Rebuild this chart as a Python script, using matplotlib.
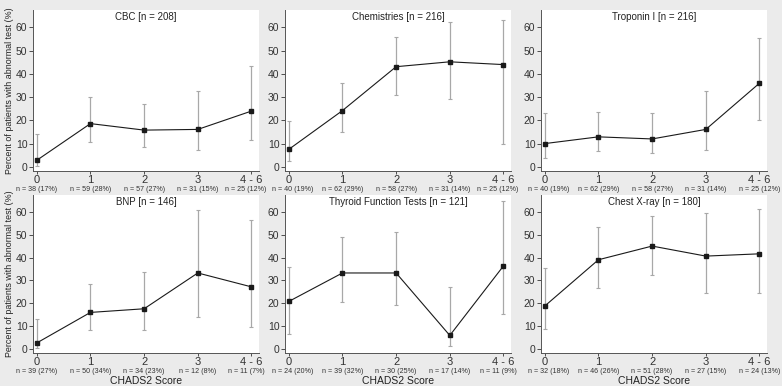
import matplotlib
matplotlib.use('Agg')
import matplotlib.pyplot as plt
from matplotlib.transforms import blended_transform_factory

plt.rcParams['font.family'] = ['Liberation Sans', 'DejaVu Sans']

# Catégories CHADS2
scores = ['0', '1', '2', '3', '4 - 6']

titres = ['CBC [n = 208]', 'Chemistries [n = 216]', 'Troponin I [n = 216]',
          'BNP [n = 146]', 'Thyroid Function Tests [n = 121]', 'Chest X-ray [n = 180]']

# Pourcentages (point) et intervalles de confiance (bas, haut)
cbc = [2.8, 18.6, 15.8, 16.1, 24.0]
cbc_low = [0.5, 10.8, 8.6, 7.2, 11.6]
cbc_high = [14.0, 30.2, 27.2, 32.6, 43.3]

chem = [7.5, 24.2, 43.1, 45.2, 44.0]
chem_low = [2.5, 15.2, 31.0, 29.3, 9.8]
chem_high = [19.8, 36.0, 56.0, 62.4, 63.0]

trop = [10.0, 12.9, 12.0, 16.1, 36.0]
trop_low = [4.0, 6.7, 6.0, 7.2, 20.0]
trop_high = [23.0, 23.4, 23.0, 32.6, 55.6]

bnp = [2.6, 16.0, 17.6, 33.3, 27.2]
bnp_low = [0.4, 8.4, 8.5, 13.8, 9.7]
bnp_high = [13.3, 28.3, 33.6, 60.8, 56.5]

thyr = [20.8, 33.3, 33.3, 5.9, 36.4]
thyr_low = [6.6, 20.7, 19.2, 1.1, 15.2]
thyr_high = [35.9, 49.1, 51.3, 27.0, 64.8]

cxr = [18.8, 39.1, 45.1, 40.7, 41.7]
cxr_low = [8.9, 26.5, 32.3, 24.4, 24.4]
cxr_high = [35.3, 53.6, 58.4, 59.4, 61.2]

# Effectifs par catégorie
n_cbc = ['n = 38 (17%)', 'n = 59 (28%)', 'n = 57 (27%)', 'n = 31 (15%)', 'n = 25 (12%)']
n_chem = ['n = 40 (19%)', 'n = 62 (29%)', 'n = 58 (27%)', 'n = 31 (14%)', 'n = 25 (12%)']
n_trop = ['n = 40 (19%)', 'n = 62 (29%)', 'n = 58 (27%)', 'n = 31 (14%)', 'n = 25 (12%)']
n_bnp = ['n = 39 (27%)', 'n = 50 (34%)', 'n = 34 (23%)', 'n = 12 (8%)', 'n = 11 (7%)']
n_thyr = ['n = 24 (20%)', 'n = 39 (32%)', 'n = 30 (25%)', 'n = 17 (14%)', 'n = 11 (9%)']
n_cxr = ['n = 32 (18%)', 'n = 46 (26%)', 'n = 51 (28%)', 'n = 27 (15%)', 'n = 24 (13%)']

panneaux = [
    (cbc, cbc_low, cbc_high, n_cbc),
    (chem, chem_low, chem_high, n_chem),
    (trop, trop_low, trop_high, n_trop),
    (bnp, bnp_low, bnp_high, n_bnp),
    (thyr, thyr_low, thyr_high, n_thyr),
    (cxr, cxr_low, cxr_high, n_cxr),
]

fond = '#ebebeb'
fig = plt.figure(figsize=(7.82, 3.86), dpi=100, facecolor=fond)

W, H = 782, 386
lefts = [33, 285, 541]
larg = 226
rangs = [(10, 171), (195, 353)]

x = list(range(len(scores)))

for i, (val, bas, haut, nlab) in enumerate(panneaux):
    r, c = divmod(i, 3)
    top, bot = rangs[r]
    ax = fig.add_axes([lefts[c] / W, 1 - bot / H, larg / W, (bot - top) / H])
    ax.set_facecolor('white')

    yerr = [[v - b for v, b in zip(val, bas)], [h - v for v, h in zip(val, haut)]]
    ax.errorbar(x, val, yerr=yerr, fmt='none', ecolor='#a8a8a8', elinewidth=0.9,
                capsize=1.5, capthick=0.8, zorder=2)
    ax.plot(x, val, color='#1a1a1a', lw=0.8, marker='s', ms=2.6, zorder=3)

    ax.set_xlim(-0.07, 4.14)
    ax.set_ylim(-1.8, 67.5)
    ax.set_yticks(range(0, 61, 10))
    ax.set_xticks(x)
    ax.set_xticklabels(scores, fontsize=8)
    ax.tick_params(axis='y', labelsize=7.5, length=3, width=0.6, pad=1, colors='#333333')
    ax.tick_params(axis='x', length=2.5, width=0.6, pad=0.5, colors='#333333')
    for s in ['top', 'right']:
        ax.spines[s].set_visible(False)
    for s in ['left', 'bottom']:
        ax.spines[s].set_color('#555555')
        ax.spines[s].set_linewidth(0.7)

    ax.text(0.5, 0.985, titres[i], transform=ax.transAxes, ha='center', va='top',
            fontsize=7, color='#222222')

    trans = blended_transform_factory(ax.transData, ax.transAxes)
    for xi, lab in zip(x, nlab):
        dx = 0.0
        if xi == 0 and c > 0:
            dx = 0.08
        if xi == 4 and c < 2:
            dx = -0.1
        ax.text(xi + dx, -0.095, lab, transform=trans, ha='center', va='top',
                fontsize=5.1, color='#333333')

    if c == 0:
        ax.set_ylabel('Percent of patients with abnormal test (%)', fontsize=6.4,
                      color='#222222', labelpad=1.5)
    if r == 1:
        ax.set_xlabel('CHADS2 Score', fontsize=7.5, color='#222222', labelpad=6)

plt.savefig('out.png', dpi=100, facecolor=fond)
